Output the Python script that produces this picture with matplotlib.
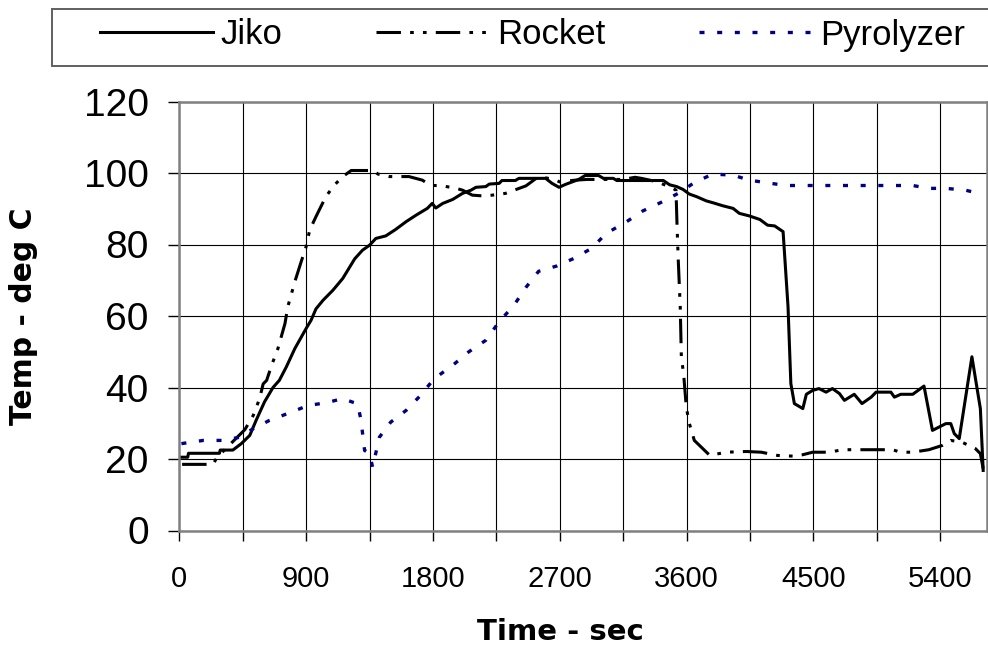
import matplotlib
matplotlib.use('Agg')
import matplotlib.pyplot as plt
from matplotlib.patches import Rectangle

# time in seconds, temperature in deg C
jiko_t = [15, 60, 65, 285, 290, 380, 440, 500, 545, 605,
          665, 710, 760, 820, 900, 935, 970, 1020, 1090, 1160,
          1245, 1300, 1350, 1395, 1465, 1535, 1610, 1680, 1760, 1795,
          1820, 1870, 1940, 2010, 2070, 2105, 2175, 2200, 2270, 2290,
          2385, 2410, 2600, 2645, 2695, 2740, 2835, 2880, 2975, 3010,
          3080, 3105, 3435, 3480, 3530, 3575, 3620, 3670, 3740, 3785,
          3860, 3930, 3975, 4045, 4120, 4175, 4225, 4285, 4320, 4340,
          4365, 4425, 4450, 4495, 4540, 4590, 4635, 4685, 4720, 4790,
          4845, 4910, 4945, 5050, 5075, 5120, 5205, 5285, 5345, 5390,
          5440, 5475, 5500, 5535, 5625, 5685, 5705]
jiko_v = [20.5, 20.5, 21.6, 21.6, 22.5, 22.5, 24.3, 26.6, 30.8, 36,
          40, 42, 45.8, 50.9, 56.5, 58.8, 62, 64.4, 67.2, 70.5,
          76, 78.4, 79.8, 81.7, 82.4, 84.2, 86.4, 88.2, 90.1, 91.5,
          90.2, 91.5, 92.6, 94.3, 95.2, 96, 96.2, 96.9, 97.1, 97.9,
          97.9, 98.5, 98.5, 97.1, 96, 96.8, 98.2, 99.3, 99.3, 98.5,
          98.5, 97.9, 97.9, 96.7, 96.2, 95.4, 94.1, 93.4, 92.2, 91.7,
          90.8, 90.1, 88.7, 88, 87, 85.4, 85.2, 83.6, 62.6, 41.1,
          35.5, 34.1, 38.1, 39.2, 39.7, 38.7, 39.7, 38.3, 36.4, 38.1,
          35.5, 37.3, 38.7, 38.7, 37.3, 38.1, 38.1, 40.4, 28, 28.9,
          29.9, 29.9, 27.1, 25.7, 48.6, 34.1, 16.8]

rocket_t = [20, 240, 265, 345, 465, 525, 570, 595, 620, 655,
            700, 750, 770, 820, 865, 900, 925, 970, 1040, 1100,
            1160, 1220, 1300, 1375, 1410, 1490, 1630, 1725, 1785, 1855,
            1965, 2010, 2080, 2150, 2220, 2315, 2460, 2550, 2660, 2700,
            2810, 2895, 3150, 3235, 3280, 3385, 3490, 3525, 3532, 3540,
            3555, 3563, 3580, 3598, 3620, 3655, 3765, 3880, 4025, 4130,
            4245, 4355, 4425, 4495, 4615, 4705, 4965, 5060, 5120, 5205,
            5320, 5415, 5475, 5555, 5650, 5685, 5705]
rocket_v = [18.5, 18.5, 20.3, 23.5, 28.2, 32.2, 36.9, 41, 42, 46.2,
            50.9, 57.9, 62.6, 69.6, 75.2, 79.4, 84, 87.8, 93.4, 96.6,
            99, 100.7, 100.7, 100.7, 99.7, 99, 99, 98, 96.5, 96.5,
            95.7, 95.2, 93.8, 93.6, 93.8, 94.3, 96.4, 99, 98.2, 97.5,
            98, 98.2, 98.2, 98.8, 98.5, 97.6, 96, 95.2, 85.9, 76.6,
            62.6, 48.6, 43.4, 34.5, 29.9, 25.2, 21, 21.9, 22.1, 21.9,
            21, 20.8, 21.2, 21.9, 21.9, 22.6, 22.6, 22.6, 21.9, 21.9,
            22.6, 23.8, 25.2, 24.7, 22.9, 21.5, 17.3]

pyro_t = [15, 170, 310, 430, 525, 640, 795, 915, 1040, 1160,
          1230, 1265, 1290, 1305, 1315, 1350, 1372, 1420, 1500, 1610,
          1705, 1810, 1940, 2055, 2175, 2270, 2375, 2460, 2550, 2680,
          2800, 2925, 3030, 3175, 3290, 3420, 3540, 3655, 3785, 3930,
          4045, 4165, 4305, 4495, 5205, 5320, 5440, 5580, 5700]
pyro_v = [24.3, 25.2, 25.2, 26.1, 28.5, 30.8, 33.1, 35, 35.7, 36.9,
          35.9, 35.5, 30.8, 25.7, 22.4, 21.5, 17.7, 26.1, 30.3, 33.6,
          37.5, 42.5, 46.2, 50, 53.2, 58.4, 63, 68, 72.5, 74,
          76.1, 78.9, 83.1, 86.4, 89.4, 91.8, 94.3, 97.3, 99.7, 99.4,
          98, 97.3, 96.5, 96.5, 96.5, 95.7, 95.7, 95.2, 94]

x_ticks = list(range(0, 5401, 450))
x_labels = ['0', '', '900', '', '1800', '', '2700', '', '3600', '', '4500', '', '5400']
y_ticks = [0, 20, 40, 60, 80, 100, 120]

W, H = 988, 650
fig = plt.figure(figsize=(W / 100, H / 100), dpi=100)
ax = fig.add_axes([179.3 / W, 1 - 530.5 / H, (986.7 - 179.3) / W, (530.5 - 101.5) / H])

ax.plot(jiko_t, jiko_v, color='black', lw=2.2, label='Jiko')
ax.plot(rocket_t, rocket_v, color='black', lw=2.2,
        dashes=(8, 3, 1.2, 3, 1.2, 3), label='Rocket')
ax.plot(pyro_t, pyro_v, color='#000080', lw=2.4,
        dashes=(1.5, 3.8), label='Pyrolyzer')

ax.set_xlim(0, 5730)
ax.set_ylim(0, 120)
ax.set_xticks(x_ticks)
ax.set_xticklabels(x_labels, fontsize=21, family='Liberation Sans')
ax.set_yticks(y_ticks)
ax.set_yticklabels([str(v) for v in y_ticks], fontsize=28, family='Liberation Sans')
ax.tick_params(axis='x', direction='out', length=7, width=1, pad=18)
ax.tick_params(axis='y', direction='out', length=8, width=1, pad=14)
ax.grid(True, color='black', lw=0.8)
ax.set_axisbelow(True)
for s in ax.spines.values():
    s.set_color('#808080')
    s.set_linewidth(1.8)

fig.text(24 / W, 1 - 316 / H, 'Temp - deg C', rotation=90, ha='center', va='center',
         fontsize=21.5, fontweight='bold', family='DejaVu Sans')
fig.text(560 / W, 1 - 632 / H, 'Time - sec', ha='center', va='center',
         fontsize=21, fontweight='bold', family='DejaVu Sans')

# legend box runs off the right edge of the figure
fig.patches.append(Rectangle((52 / W, 1 - 66 / H), (1010 - 52) / W, 57 / H,
                             transform=fig.transFigure, facecolor='white',
                             edgecolor='#606060', lw=1.4, zorder=0))
leg = fig.legend(loc='center left', ncol=3, bbox_to_anchor=(100 / W, 1 - 35 / H),
                 prop={'family': 'Liberation Sans', 'size': 25},
                 handlelength=3.25, handletextpad=0.23, columnspacing=2.7,
                 borderpad=0, borderaxespad=0, frameon=False)

fig.savefig('out.png', dpi=100)
